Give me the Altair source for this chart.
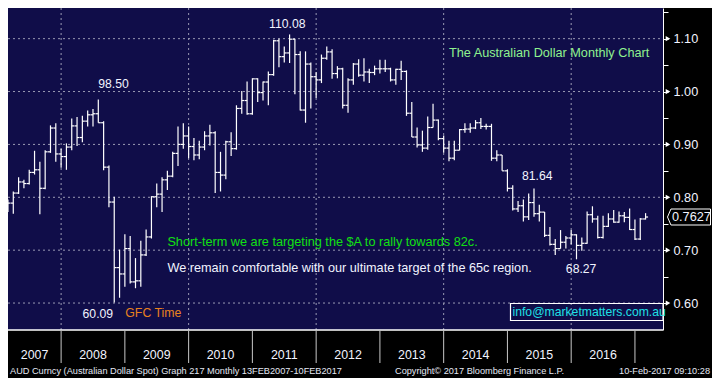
import altair as alt
import pandas as pd

# ---------------- data (monthly OHLC, Feb 2007 - Feb 2017) ----------------
open_2007 = [0.778, 0.789, 0.808, 0.829, 0.826, 0.847, 0.852, 0.817, 0.886, 0.931, 0.882]
high_2007 = [0.796, 0.811, 0.838, 0.833, 0.852, 0.888, 0.867, 0.889, 0.936, 0.940, 0.892]
low_2007 = [0.772, 0.769, 0.806, 0.817, 0.824, 0.843, 0.768, 0.815, 0.884, 0.867, 0.856]
close_2007 = [0.789, 0.808, 0.829, 0.826, 0.847, 0.852, 0.817, 0.886, 0.931, 0.882, 0.877]

open_2008 = [0.877, 0.895, 0.935, 0.913, 0.944, 0.956, 0.958, 0.941, 0.857, 0.791, 0.667, 0.655]
high_2008 = [0.902, 0.949, 0.952, 0.954, 0.964, 0.967, 0.985, 0.944, 0.860, 0.801, 0.701, 0.730]
low_2008 = [0.852, 0.889, 0.897, 0.904, 0.934, 0.934, 0.941, 0.851, 0.781, 0.6009, 0.610, 0.631]
close_2008 = [0.895, 0.935, 0.913, 0.944, 0.956, 0.958, 0.941, 0.857, 0.791, 0.667, 0.655, 0.703]

open_2009 = [0.703, 0.640, 0.642, 0.691, 0.725, 0.801, 0.806, 0.833, 0.840, 0.883, 0.900, 0.916]
high_2009 = [0.727, 0.685, 0.718, 0.739, 0.802, 0.826, 0.838, 0.850, 0.886, 0.934, 0.940, 0.934]
low_2009 = [0.637, 0.628, 0.631, 0.689, 0.722, 0.781, 0.772, 0.814, 0.838, 0.859, 0.892, 0.874]
close_2009 = [0.640, 0.642, 0.691, 0.725, 0.801, 0.806, 0.833, 0.840, 0.883, 0.900, 0.916, 0.896]

open_2010 = [0.896, 0.880, 0.895, 0.916, 0.922, 0.847, 0.842, 0.905, 0.892, 0.968, 0.983, 0.958]
high_2010 = [0.912, 0.907, 0.925, 0.937, 0.925, 0.886, 0.907, 0.923, 0.974, 1.001, 1.019, 1.025]
low_2010 = [0.870, 0.872, 0.889, 0.898, 0.808, 0.811, 0.834, 0.878, 0.890, 0.958, 0.956, 0.956]
close_2010 = [0.880, 0.895, 0.916, 0.922, 0.847, 0.842, 0.905, 0.892, 0.968, 0.983, 0.958, 1.024]

open_2011 = [1.024, 0.998, 1.018, 1.032, 1.096, 1.066, 1.073, 1.099, 1.070, 0.965, 1.052, 1.028]
high_2011 = [1.025, 1.019, 1.038, 1.098, 1.100, 1.085, 1.108, 1.100, 1.076, 1.076, 1.055, 1.037]
low_2011 = [0.980, 0.983, 0.974, 1.030, 1.046, 1.055, 1.054, 0.995, 0.964, 0.941, 0.968, 0.988]
close_2011 = [0.998, 1.018, 1.032, 1.096, 1.066, 1.073, 1.099, 1.070, 0.965, 1.052, 1.028, 1.022]

open_2012 = [1.022, 1.063, 1.075, 1.034, 1.043, 0.974, 1.022, 1.052, 1.031, 1.037, 1.036, 1.043]
high_2012 = [1.070, 1.085, 1.080, 1.048, 1.045, 1.025, 1.054, 1.061, 1.063, 1.043, 1.049, 1.060]
low_2012 = [1.016, 1.060, 1.024, 1.025, 0.968, 0.960, 1.013, 1.028, 1.019, 1.016, 1.031, 1.034]
close_2012 = [1.063, 1.075, 1.034, 1.043, 0.974, 1.022, 1.052, 1.031, 1.037, 1.036, 1.043, 1.043]

open_2013 = [1.043, 1.043, 1.022, 1.042, 1.038, 0.959, 0.914, 0.899, 0.893, 0.932, 0.946, 0.911]
high_2013 = [1.060, 1.045, 1.043, 1.058, 1.040, 0.980, 0.932, 0.926, 0.953, 0.977, 0.947, 0.917]
low_2013 = [1.037, 1.019, 1.013, 1.022, 0.954, 0.914, 0.894, 0.886, 0.890, 0.932, 0.908, 0.884]
close_2013 = [1.043, 1.022, 1.042, 1.038, 0.959, 0.914, 0.899, 0.893, 0.932, 0.946, 0.911, 0.893]

open_2014 = [0.893, 0.874, 0.889, 0.928, 0.929, 0.931, 0.941, 0.934, 0.934, 0.874, 0.880, 0.850]
high_2014 = [0.907, 0.907, 0.929, 0.940, 0.940, 0.946, 0.950, 0.939, 0.939, 0.889, 0.880, 0.853]
low_2014 = [0.868, 0.870, 0.889, 0.922, 0.922, 0.929, 0.929, 0.928, 0.869, 0.868, 0.850, 0.811]
close_2014 = [0.874, 0.889, 0.928, 0.929, 0.931, 0.941, 0.934, 0.934, 0.874, 0.880, 0.850, 0.817]

open_2015 = [0.817, 0.778, 0.784, 0.763, 0.790, 0.769, 0.772, 0.728, 0.711, 0.703, 0.715, 0.723]
high_2015 = [0.823, 0.793, 0.796, 0.807, 0.8164, 0.786, 0.772, 0.744, 0.721, 0.738, 0.727, 0.738]
low_2015 = [0.775, 0.772, 0.754, 0.757, 0.763, 0.754, 0.725, 0.709, 0.691, 0.703, 0.703, 0.711]
close_2015 = [0.778, 0.784, 0.763, 0.790, 0.769, 0.772, 0.728, 0.711, 0.703, 0.715, 0.723, 0.729]

open_2016 = [0.729, 0.709, 0.713, 0.767, 0.759, 0.724, 0.745, 0.759, 0.753, 0.765, 0.762, 0.739]
high_2016 = [0.730, 0.724, 0.773, 0.783, 0.765, 0.765, 0.770, 0.776, 0.773, 0.772, 0.779, 0.758]
low_2016 = [0.6827, 0.699, 0.712, 0.752, 0.722, 0.722, 0.744, 0.752, 0.752, 0.753, 0.738, 0.719]
close_2016 = [0.709, 0.713, 0.767, 0.759, 0.724, 0.745, 0.759, 0.753, 0.765, 0.762, 0.739, 0.721]

open_2017 = [0.721, 0.759]
high_2017 = [0.761, 0.770]
low_2017 = [0.719, 0.758]
close_2017 = [0.759, 0.7627]

year_labels = ["2007", "2008", "2009", "2010", "2011", "2012", "2013", "2014", "2015", "2016"]
year_bounds = [2008, 2009, 2010, 2011, 2012, 2013, 2014, 2015, 2016, 2017]
grid_years = [2008, 2010, 2012, 2014, 2016]
price_ticks = [0.60, 0.65, 0.70, 0.75, 0.80, 0.85, 0.90, 0.95, 1.00, 1.05, 1.10, 1.15]
price_major = [0.60, 0.70, 0.80, 0.90, 1.00, 1.10]

peak_labels = ["98.50", "110.08", "60.09", "81.64", "68.27"]
peak_dates = [(2008, 7), (2011, 7), (2008, 10), (2015, 5), (2016, 1)]
peak_prices = [0.985, 1.108, 0.6009, 0.8164, 0.6827]

title_text = "The Australian Dollar Monthly Chart"
note_green = "Short-term we are targeting the $A to rally towards 82c."
note_white = "We remain comfortable with our ultimate target of the 65c region."
gfc_text = "GFC Time"
info_text = "info@marketmatters.com.au"
footer_left = "AUD Curncy (Australian Dollar Spot) Graph 217  Monthly 13FEB2007-10FEB2017"
footer_mid = "Copyright\u00a9 2017 Bloomberg Finance L.P."
footer_right = "10-Feb-2017 09:10:28"

# ---------------- build table ----------------
opens = open_2007 + open_2008 + open_2009 + open_2010 + open_2011 + open_2012 + open_2013 + open_2014 + open_2015 + open_2016 + open_2017
highs = high_2007 + high_2008 + high_2009 + high_2010 + high_2011 + high_2012 + high_2013 + high_2014 + high_2015 + high_2016 + high_2017
lows = low_2007 + low_2008 + low_2009 + low_2010 + low_2011 + low_2012 + low_2013 + low_2014 + low_2015 + low_2016 + low_2017
closes = close_2007 + close_2008 + close_2009 + close_2010 + close_2011 + close_2012 + close_2013 + close_2014 + close_2015 + close_2016 + close_2017

W, H = 655, 322
XMIN, XMAX = 2007.167, 2017.440
YMIN, YMAX = 0.549, 1.158
tick_len = 2.5 / (W / (XMAX - XMIN))


def month_pos(y, m):
    return y + m / 12.0


xs = []
for i in range(len(opens)):
    m = 2 + i
    yy = 2007 + (m - 1) // 12
    mo = (m - 1) % 12 + 1
    xs.append(month_pos(yy, mo))

df = pd.DataFrame({"x": xs, "open": opens, "high": highs, "low": lows, "close": closes})
df["xl"] = df["x"] - tick_len
df["xr"] = df["x"] + tick_len

xscale = alt.Scale(domain=[XMIN, XMAX], nice=False, zero=False)
yscale = alt.Scale(domain=[YMIN, YMAX], nice=False, zero=False)

FONT = "Liberation Sans"
WHITE = "#f2f4ff"
GRID = "#9a9ab4"
NAVY = "#100d49"

yaxis = alt.Axis(
    orient="right", values=price_ticks, title=None, grid=False,
    labelExpr="(round(datum.value*100) % 10 == 0) ? format(datum.value, '.2f') : ''",
    tickSize=5, tickColor="white", tickWidth=1, domainColor="white", domainWidth=1,
    labelColor=WHITE, labelFont=FONT, labelFontSize=12.7, labelPadding=5,
)

# gridlines
grid_h = alt.Chart(pd.DataFrame({"v": price_major})).mark_rule(
    color=GRID, strokeDash=[2, 3], strokeWidth=1
).encode(y=alt.Y("v:Q", scale=yscale, axis=yaxis), x=alt.value(0), x2=alt.value(W))

grid_v = alt.Chart(pd.DataFrame({"yr": grid_years})).mark_rule(
    color=GRID, strokeDash=[2, 3], strokeWidth=1
).encode(x=alt.X("yr:Q", scale=xscale, axis=None), y=alt.value(0), y2=alt.value(H))

base = alt.Chart(df)
hl = base.mark_rule(color="white", strokeWidth=1.2, clip=True).encode(
    x=alt.X("x:Q", scale=xscale, axis=None),
    y=alt.Y("low:Q", scale=yscale, axis=yaxis), y2="high:Q")
op = base.mark_rule(color="white", strokeWidth=1.2, clip=True).encode(
    x=alt.X("xl:Q", scale=xscale, axis=None), x2="x:Q",
    y=alt.Y("open:Q", scale=yscale, axis=yaxis))
cl = base.mark_rule(color="white", strokeWidth=1.2, clip=True).encode(
    x=alt.X("x:Q", scale=xscale, axis=None), x2="xr:Q",
    y=alt.Y("close:Q", scale=yscale, axis=yaxis))

bottom_line = alt.Chart(pd.DataFrame({"a": [0]})).mark_rule(color="white", strokeWidth=1.5).encode(
    y=alt.value(H), x=alt.value(0), x2=alt.value(W))

sep = alt.Chart(pd.DataFrame({"yr": year_bounds})).mark_rule(color="#c8c8c8", strokeWidth=1).encode(
    x=alt.X("yr:Q", scale=xscale, axis=None), y=alt.value(H + 1), y2=alt.value(H + 33))

centers = []
for lab in year_labels:
    y0 = int(lab)
    centers.append((max(y0, XMIN) + min(y0 + 1, XMAX)) / 2.0)
yl = alt.Chart(pd.DataFrame({"c": centers, "t": year_labels})).mark_text(
    color=WHITE, font=FONT, fontSize=12.4, baseline="middle", align="center"
).encode(x=alt.X("c:Q", scale=xscale, axis=None), y=alt.value(347), text="t:N")

tri = alt.Chart(pd.DataFrame({"v": price_major})).mark_point(
    shape="triangle-right", filled=True, color="white", size=28, opacity=1
).encode(y=alt.Y("v:Q", scale=yscale, axis=yaxis), x=alt.value(W + 5))

last = pd.DataFrame({"p": [closes[-1]], "t": [f"{closes[-1]:.4f}"]})
tag = alt.Chart(last).mark_point(
    shape="M-1,0L-0.84,-0.372L1,-0.372L1,0.372L-0.84,0.372Z",
    filled=True, fill="black", stroke="white", strokeWidth=1, size=1849, opacity=1
).encode(y=alt.Y("p:Q", scale=yscale, axis=yaxis), x=alt.value(681))
tag_t = alt.Chart(last).mark_text(
    color=WHITE, font=FONT, fontSize=12.7, align="left", baseline="middle"
).encode(y=alt.Y("p:Q", scale=yscale, axis=yaxis), x=alt.value(664), text="t:N")

offsets = [(15.2, -15.8), (-2.3, -10.2), (-16.4, 11.0), (3.2, -13.0), (4.6, 9.2)]
peak_layers = []
for lab, (yy, mm), pr, (dx, dy) in zip(peak_labels, peak_dates, peak_prices, offsets):
    d = pd.DataFrame({"x": [month_pos(yy, mm)], "y": [pr], "t": [lab]})
    peak_layers.append(alt.Chart(d).mark_text(
        color=WHITE, font=FONT, fontSize=12.2, align="center", baseline="middle", dx=dx, dy=dy
    ).encode(x=alt.X("x:Q", scale=xscale, axis=None),
             y=alt.Y("y:Q", scale=yscale, axis=yaxis), text="t:N"))


def label(txt, x, y, color, size=12.7, align="left"):
    return alt.Chart(pd.DataFrame({"t": [txt]})).mark_text(
        color=color, font=FONT, fontSize=size, align=align, baseline="middle"
    ).encode(x=alt.value(x), y=alt.value(y), text="t:N")


info_box = alt.Chart(pd.DataFrame({"a": [0]})).mark_rect(
    fillOpacity=0, stroke="white", strokeWidth=1.2
).encode(x=alt.value(502.5), x2=alt.value(W), y=alt.value(295.5), y2=alt.value(312.5))

texts = [
    label(title_text, 441, 45, "#8ff28f"),
    label(note_green, 159.4, 234, "#12e012"),
    label(note_white, 159.4, 259.8, WHITE),
    label(gfc_text, 117.3, 304.8, "#e8821e", 12.3),
    label(info_text, 504.5, 304, "#1fe0e6", 12.2),
    label(footer_left, 2, 363.3, "#e4e8f4", 9.2),
    label(footer_mid, 387, 363.3, "#e4e8f4", 9.2),
    label(footer_right, 702, 363.3, "#e4e8f4", 9.2, "right"),
]

chart = alt.layer(
    grid_h, grid_v, hl, op, cl, bottom_line, sep, yl, tri, tag, tag_t,
    *peak_layers, info_box, *texts
).properties(
    width=W, height=H,
    autosize=alt.AutoSizeParams(type="none"),
    padding={"left": 0, "top": 0, "right": 49, "bottom": 48},
    background="#000000",
).configure_view(fill=NAVY, strokeWidth=0)

chart.save("out.html", embed_options={"renderer": "svg", "actions": False})
